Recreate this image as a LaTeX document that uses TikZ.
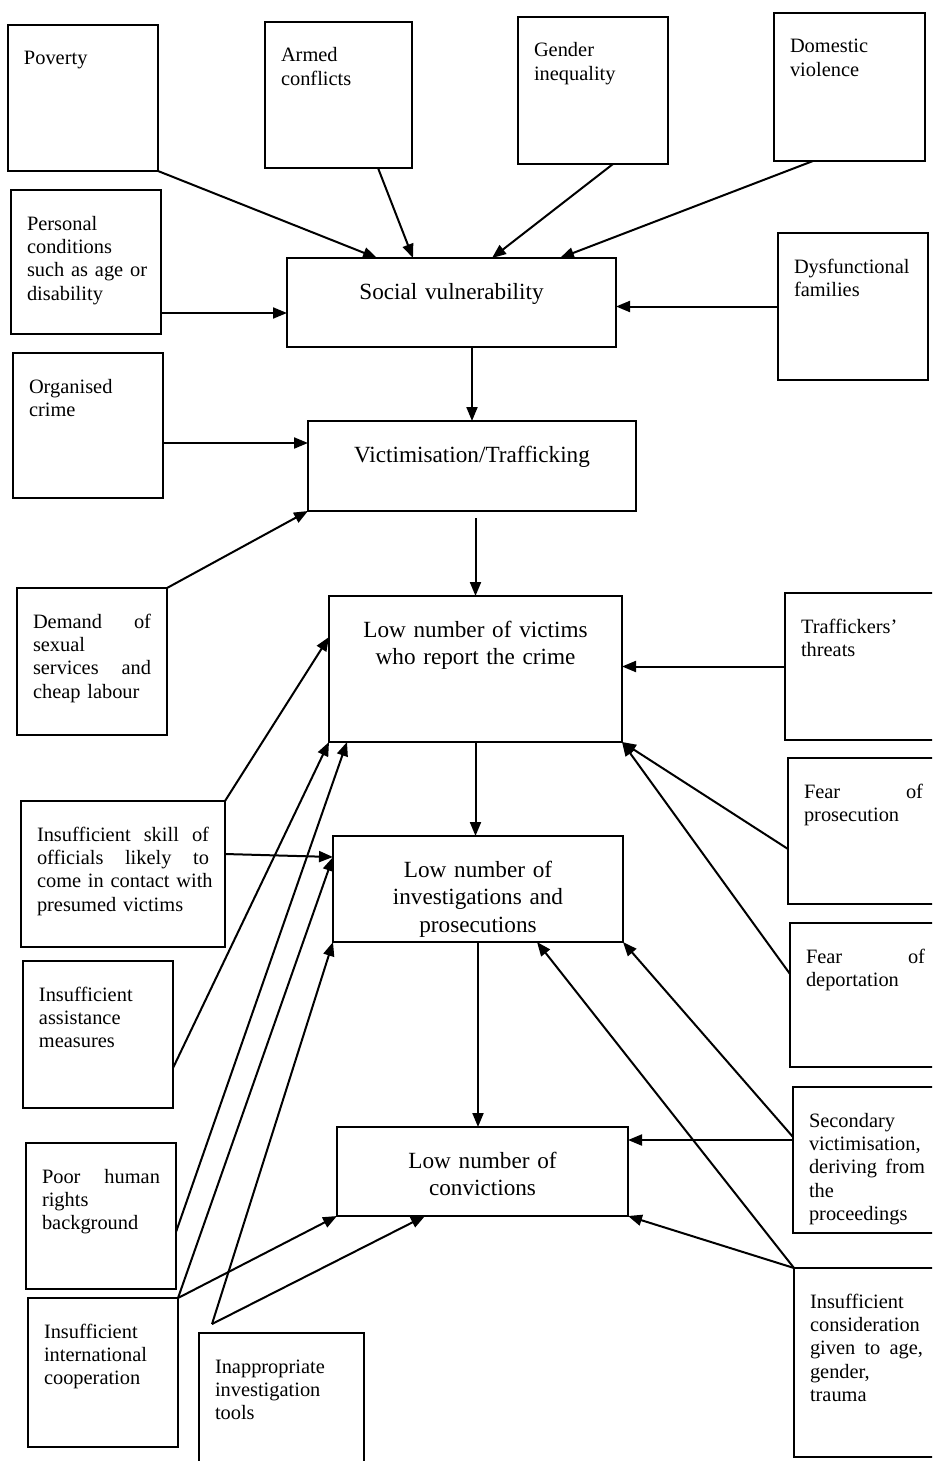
\documentclass[tikz,border=0pt]{standalone}
\usepackage{fontspec}
\setmainfont{Liberation Serif}
\usetikzlibrary{arrows.meta}
\newcommand\causefont{\fontsize{10.2}{11.7}\selectfont}
\newcommand\effectfont{\fontsize{11.6}{13.8}\selectfont}

\begin{document}
\begin{tikzpicture}[x=0.5pt, y=-0.5pt,
      cause/.style={draw, line width=0.8pt, anchor=north west, align=left,
                    font=\causefont, inner xsep=8pt, inner ysep=0pt, outer sep=0pt,
                    text width=59pt, text height=20pt, text depth=53pt},
      effect/.style={draw, line width=0.8pt, anchor=north west, align=center,
                    font=\effectfont, inner xsep=4pt, inner ysep=0pt, outer sep=0pt,
                    text height=20.5pt},
      arr/.style={-{Triangle[length=7pt,width=5.5pt]}, line width=1pt}]

    \useasboundingbox (0,0) rectangle (932,1461);
    \clip (0,0) rectangle (932,1461);

    \node[effect, text width=156.5pt, text depth=24pt]  (soc) at (287,258)  {Social vulnerability};
    \node[effect, text width=156pt, text depth=24.5pt]  (vic) at (308,421)  {Victimisation/Trafficking};
    \node[effect, text width=138.5pt, text depth=52.5pt] (rep) at (329,596) {Low number of victims\\who report the crime};
    \node[effect, text width=137pt, text depth=32.5pt]  (inv) at (333,836)  {Low number of\\investigations and\\prosecutions};
    \node[effect, text width=137.5pt, text depth=24pt]  (con) at (337,1127) {Low number of\\convictions};

    \node[cause] (pov) at (8,25) {Poverty};
    \node[cause, text width=57.5pt] (arm) at (265,22) {Armed\\conflicts};
    \node[cause, text depth=53.5pt] (gen) at (518,17) {Gender\\inequality};
    \node[cause, text width=59.5pt, text depth=54pt] (dom) at (774,13) {Domestic\\violence};
    \node[cause, text depth=52pt] (per) at (11,190) {Personal\\conditions\\\mbox{such as age or}\\disability};
    \node[cause, text depth=53.5pt] (dys) at (778,233) {Dysfunctional\\families};
    \node[cause, text depth=52.5pt] (org) at (13,353) {Organised\\crime};
    \node[cause, text depth=53.5pt] (dem) at (17,588) {Demand\hfill of\\sexual\\services\hfill and\\cheap labour};
    \node[cause, text depth=53.5pt] (trf) at (785,593) {Traffickers'\\threats};
    \node[cause, text width=59.5pt] (fpr) at (788,758) {Fear\hfill of\\prosecution};
    \node[cause, text width=59.5pt, text depth=52pt] (fdp) at (790,923) {Fear\hfill of\\deportation};
    \node[cause, text width=86pt] (ski) at (21,801) {Insufficient\hfill skill\hfill of\\officials\hfill likely\hfill to\\\mbox{come in contact with}\\presumed victims};
    \node[cause, text depth=53.5pt] (ast) at (23,961) {Insufficient\\assistance\\measures};
    \node[cause, text width=58pt] (sec) at (793,1087) {Secondary\\victimisation,\\deriving\hfill from\\the\\proceedings};
    \node[cause] (hum) at (26,1143) {Poor\hfill human\\rights\\background};
    \node[cause, text width=56.5pt, text depth=74.5pt] (isc) at (794,1268) {Insufficient\\consideration\\given\hfill to\hfill age,\\gender,\\trauma};
    \node[cause, text depth=54.5pt] (itl) at (28,1298) {Insufficient\\international\\cooperation};
    \node[cause, text width=66.5pt, text depth=50pt] (too) at (199,1333) {Inappropriate\\investigation\\tools};

    \draw[arr] (pov.south east) -- ([xshift=45pt]soc.north west);
    \draw[arr] ([xshift=-17pt]arm.south east) -- ([xshift=63pt]soc.north west);
    \draw[arr] ([xshift=-27.5pt]gen.south east) -- ([xshift=102.5pt]soc.north west);
    \draw[arr] ([xshift=19.5pt]dom.south west) -- ([xshift=-28pt]soc.north east);
    \draw[arr] ([yshift=-25.5pt]per.east) -- ([yshift=-25.5pt]per.east -| soc.west);
    \draw[arr] (dys.west) -- (dys.west -| soc.east);
    \draw[arr] (vic.north |- soc.south) -- (vic.north);
    \draw[arr] ([yshift=-8.75pt]org.east) -- ([yshift=-8.75pt]org.east -| vic.west);
    \draw[arr] (dem.north east) -- (vic.south west);
    \draw[arr, shorten <=3.5pt] (rep.north |- vic.south) -- (rep.north);
    \draw[arr] (trf.west) -- (trf.west -| rep.east);
    \draw[arr] (rep.south) -- (rep.south |- inv.north);
    \draw[arr] ([yshift=-9pt]fpr.west) -- (rep.south east);
    \draw[arr] ([yshift=10.5pt]fdp.west) -- (rep.south east);
    \draw[arr] (ski.north east) -- ([yshift=16pt]rep.west);
    \draw[arr] ([yshift=10pt]ski.east) -- ([yshift=16pt]inv.west);
    \draw[arr] ([yshift=-16.75pt]ast.east) -- (rep.south west);
    \draw[arr] ([yshift=-8pt]hum.east) -- ([xshift=9pt]rep.south west);
    \draw[arr] (itl.north east) -- ([yshift=16pt]inv.west);
    \draw[arr] ([xshift=6.5pt,yshift=4.5pt]too.north west) -- (inv.south west);
    \draw[arr] ([xshift=6.5pt,yshift=4.5pt]too.north west) -- ([xshift=44pt]con.south west);
    \draw[arr] (itl.north east) -- (con.south west);
    \draw[arr] (inv.south) -- (inv.south |- con.north);
    \draw[arr] ([yshift=10pt]sec.west) -- ([yshift=10pt]sec.west -| con.east);
    \draw[arr] ([yshift=11.5pt]sec.west) -- (inv.south east);
    \draw[arr] (isc.north west) -- (con.south east);
    \draw[arr] (isc.north west) -- ([xshift=29.5pt]inv.south);
\end{tikzpicture}
\end{document}
